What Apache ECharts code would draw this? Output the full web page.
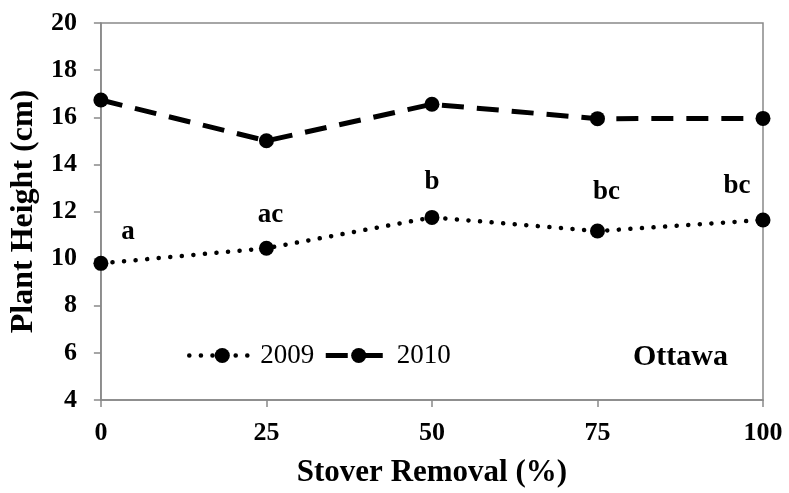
<!DOCTYPE html>
<html><head><meta charset="utf-8">
<script src="https://cdn.jsdelivr.net/npm/echarts@6/dist/echarts.min.js"></script>
<style>html,body{margin:0;padding:0;background:#fff}#c{width:789px;height:493px}</style>
</head><body><div id="c"></div>
<script>
const removal = [0, 25, 50, 75, 100];
const h2009 = [9.8, 10.44, 11.75, 11.17, 11.64];
const h2010 = [16.73, 15.0, 16.55, 15.94, 15.95];
const letters2009 = ['a', 'ac', 'b', 'bc', 'bc'];
const letterOffsets = [[27, -31], [4, -33], [0, -35], [9, -39], [-26, -34]];

const font = '"Liberation Serif", "Times New Roman", serif';
const axisGray = '#898989';
const dotStyle = { color: '#000', width: 4.5, type: [0.1, 11.5], cap: 'round' };
const dashStyle = { color: '#000', width: 5, type: [22, 13], cap: 'butt' };
const chart = echarts.init(document.getElementById('c'));
chart.setOption({
  animation: false,
  grid: { left: 99, right: 26, top: 23, bottom: 93, show: true, borderColor: axisGray, borderWidth: 1.5 },
  xAxis: {
    type: 'value', min: 0, max: 100, interval: 25,
    name: 'Stover Removal (%)', nameLocation: 'middle', nameGap: 57,
    nameTextStyle: { fontFamily: font, fontWeight: 'bold', fontSize: 31, color: '#000' },
    axisLine: { lineStyle: { color: axisGray, width: 1.5 } },
    axisTick: { show: true, length: 7, lineStyle: { color: axisGray, width: 1.5 } },
    axisLabel: { fontFamily: font, fontWeight: 'bold', fontSize: 26, color: '#000', margin: 20 },
    splitLine: { show: false }
  },
  yAxis: {
    type: 'value', min: 4, max: 20, interval: 2,
    name: 'Plant Height (cm)', nameLocation: 'middle', nameGap: 59, nameRotate: 90,
    nameTextStyle: { fontFamily: font, fontWeight: 'bold', fontSize: 32, color: '#000' },
    axisLine: { show: true, lineStyle: { color: axisGray, width: 1.5 } },
    axisTick: { show: true, length: 7, lineStyle: { color: axisGray, width: 1.5 } },
    axisLabel: { fontFamily: font, fontWeight: 'bold', fontSize: 26, color: '#000', margin: 24 },
    splitLine: { show: false }
  },
  legend: {
    left: 182, top: 337, itemWidth: 66, itemHeight: 19, itemGap: 9,
    textStyle: { fontFamily: font, fontSize: 27, color: '#000', padding: [0, 0, 0, 0] },
    data: [
      { name: '2009', lineStyle: dotStyle },
      { name: '2010', lineStyle: dashStyle }
    ]
  },
  graphic: [{
    type: 'text', left: 633, top: 342,
    style: { text: 'Ottawa', font: 'bold 30px "Liberation Serif", serif', fill: '#000' }
  }],
  series: [
    {
      name: '2009', type: 'line',
      data: removal.map((x, i) => ({
        value: [x, h2009[i]],
        label: { show: true, formatter: letters2009[i], offset: letterOffsets[i] }
      })),
      symbol: 'circle', symbolSize: 15,
      itemStyle: { color: '#000' },
      lineStyle: dotStyle,
      label: { position: 'inside', fontFamily: font, fontWeight: 'bold', fontSize: 27, color: '#000' }
    },
    {
      name: '2010', type: 'line',
      data: removal.map((x, i) => [x, h2010[i]]),
      symbol: 'circle', symbolSize: 15,
      itemStyle: { color: '#000' },
      lineStyle: dashStyle
    }
  ]
});
</script></body></html>
